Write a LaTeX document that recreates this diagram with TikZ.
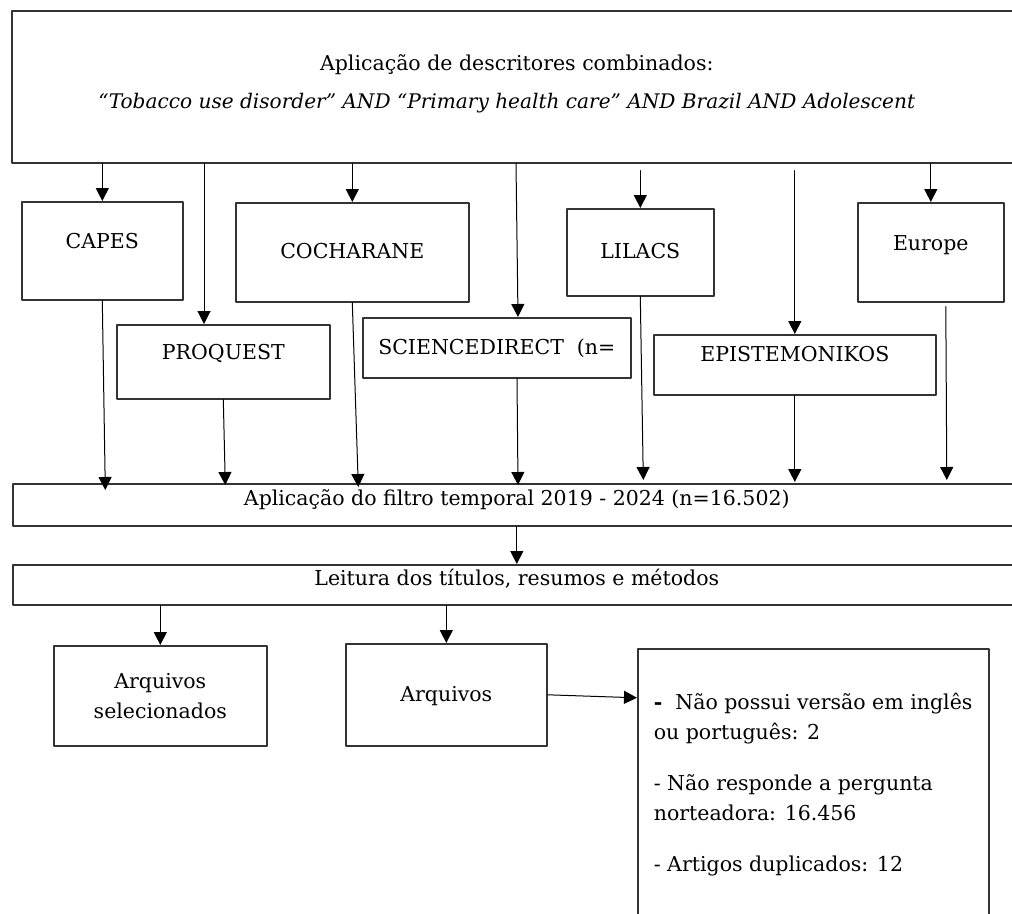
\documentclass[tikz,border=0pt]{standalone}
\usepackage{fontspec}
\setmainfont{DejaVu Serif}
\usetikzlibrary{arrows.meta}

\tikzset{
  caixa/.style={draw=black!80, line width=1.6pt, inner sep=0pt, anchor=north west},
  linha/.style={text height=15pt, text depth=#1},
  linha/.default=2pt,
  seta/.style={-{Triangle[length=13pt,width=13pt]}, line width=1pt},
}

\begin{document}
\begin{tikzpicture}[x=1pt,y=-1pt,line join=round,line cap=round]
\tikzset{every node/.style={font=\fontsize{20.5}{30}\selectfont}}
\useasboundingbox (0,0) rectangle (1012,913);
\clip (0,0) rectangle (1012,913);
% busca nas bases
\node[caixa, align=center, text height=53pt, text depth=10pt,
      minimum width=1010, minimum height=152] (busca) at (11,10)
  {Aplicação de descritores combinados:\\[8pt]
   {\fontsize{20.1}{30}\selectfont\itshape “Tobacco use disorder” AND “Primary health care” AND Brazil AND Adolescent}\hspace*{20pt}};
\node[caixa, linha=20pt, minimum width=161, minimum height=98] (capes) at (21,201) {CAPES};
\node[caixa, linha=20pt, minimum width=213, minimum height=74] (proquest) at (116,324) {PROQUEST};
\node[caixa, linha, minimum width=233, minimum height=99] (cochrane) at (235,202) {COCHARANE};
\node[caixa, linha, minimum width=268, minimum height=60] (science) at (362,317) {SCIENCEDIRECT\ \ (n=};
\node[caixa, linha, minimum width=147, minimum height=87] (lilacs) at (566,208) {LILACS};
\node[caixa, linha=22pt, minimum width=282, minimum height=60] (epist) at (653,334) {EPISTEMONIKOS};
\node[caixa, linha=19pt, minimum width=146, minimum height=99] (europe) at (857,202) {Europe};
% filtros
\node[caixa, linha=14pt, minimum width=1008, minimum height=42] (filtro) at (12,483)
  {Aplicação do filtro temporal 2019 - 2024 (n=16.502)};
\node[caixa, linha=14pt, minimum width=1008, minimum height=40] (leitura) at (12,564)
  {Leitura dos títulos, resumos e métodos};
% resultado
\node[caixa, align=center, minimum width=213, minimum height=100] (arqsel) at (53,645)
  {Arquivos\\selecionados};
\node[caixa, linha, minimum width=201, minimum height=102] (arquivos) at (345,643) {Arquivos};
\node[caixa, inner xsep=16pt, inner ysep=40pt] (exclusao) at (637,648)
  {\begin{minipage}[t][230pt][t]{319pt}\raggedright
   \strut\textbf{-}\ \ Não possui versão em inglês\\
   ou português: 2\\[21pt]
   - Não responde a pergunta\\
   norteadora: 16.456\\[21pt]
   - Artigos duplicados: 12
   \end{minipage}};
% setas
\draw[seta] (busca.south -| capes.north) -- (capes.north);
\draw[seta] (busca.south -| 204,0) -- (proquest.north -| 204,0);
\draw[seta] (busca.south -| cochrane.north) -- (cochrane.north);
\draw[seta] (busca.south -| 516,0) -- (science.north -| 518,0);
\draw[seta] ([yshift=-7pt]busca.south -| lilacs.north) -- (lilacs.north);
\draw[seta] ([yshift=-7pt]busca.south -| epist.north) -- (epist.north);
\draw[seta] (busca.south -| europe.north) -- (europe.north);
\draw[seta] (capes.south) -- ([xshift=3pt,yshift=-7pt]capes.south |- filtro.north);
\draw[seta] (proquest.south) -- ([xshift=2pt,yshift=-2pt]proquest.south |- filtro.north);
\draw[seta] (cochrane.south) -- ([xshift=6pt,yshift=-4pt]cochrane.south |- filtro.north);
\draw[seta] (science.south -| 517,0) -- ([yshift=-2pt]filtro.north -| 518,0);
\draw[seta] (lilacs.south) -- ([xshift=3pt,yshift=3pt]lilacs.south |- filtro.north);
\draw[seta] (epist.south) -- ([yshift=1pt]epist.south |- filtro.north);
\draw[seta] ([xshift=15pt,yshift=-4pt]europe.south) -- ([xshift=16pt,yshift=3pt]europe.south |- filtro.north);
\draw[seta] (filtro.south) -- (leitura.north);
\draw[seta] (leitura.south -| arqsel.north) -- (arqsel.north);
\draw[seta] (leitura.south -| arquivos.north) -- (arquivos.north);
\draw[seta] (arquivos.east) -- ([yshift=-3pt]arquivos.east -| exclusao.west);
\end{tikzpicture}
\end{document}
